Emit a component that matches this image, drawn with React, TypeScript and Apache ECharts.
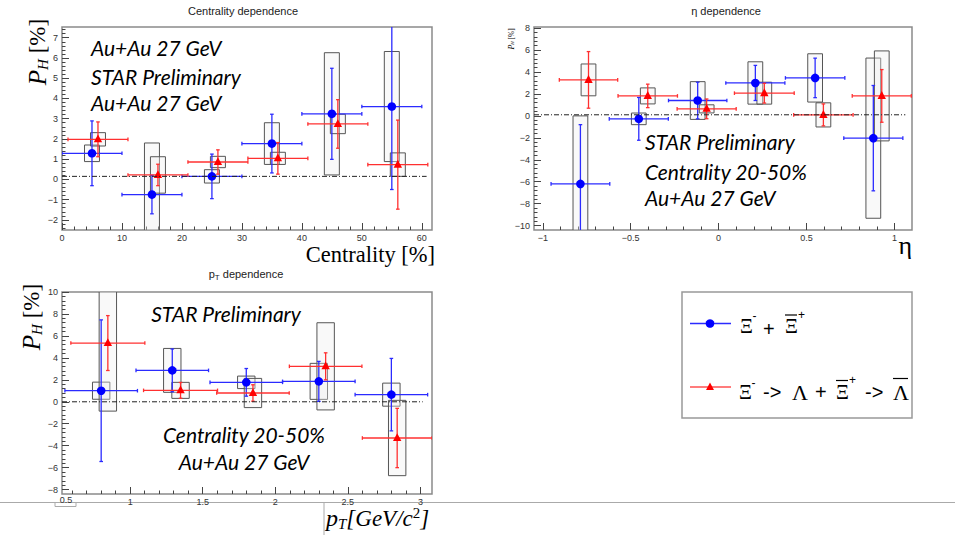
import React, { useEffect, useRef } from "react";
import * as echarts from "echarts";

// ---------- Centrality dependence ----------
const centBlueX = [5, 15, 25, 35, 45, 55];
const centBlueY = [1.29, -0.75, 0.15, 1.77, 3.24, 3.6];
const centBlueXErr = [5, 5, 5, 5, 5, 5];
const centBlueErr = [1.6, 0.95, 1.1, 1.45, 2.25, 4.1];
const centBlueSys = [0.41, 2.55, 0.33, 1.03, 3.02, 2.72];
const centRedX = [6, 16, 26, 36, 46, 56];
const centRedY = [1.98, 0.22, 0.86, 1.04, 2.74, 0.73];
const centRedXErr = [5, 5, 5, 5, 5, 5];
const centRedErr = [0.86, 0.53, 0.6, 0.78, 1.2, 2.2];
const centRedSys = [0.33, 0.9, 0.28, 0.3, 0.48, 0.58];

// ---------- eta dependence ----------
const etaBlueX = [-0.786, -0.454, -0.119, 0.209, 0.549, 0.88];
const etaBlueXErr = [0.167, 0.168, 0.166, 0.168, 0.169, 0.168];
const etaBlueY = [-6.2, -0.27, 1.4, 3.0, 3.46, -2.03];
const etaBlueErr = [5.4, 1.95, 1.67, 1.6, 1.8, 4.8];
const etaBlueSys = [6.2, 0.53, 1.72, 1.93, 2.2, 7.3];
const etaRedX = [-0.74, -0.403, -0.068, 0.26, 0.596, 0.928];
const etaRedXErr = [0.166, 0.169, 0.168, 0.17, 0.169, 0.168];
const etaRedY = [3.28, 1.82, 0.64, 2.07, 0.09, 1.82];
const etaRedErr = [2.58, 1.07, 0.9, 0.9, 1.0, 2.4];
const etaRedSys = [1.45, 0.73, 0.37, 1.0, 1.1, 4.1];

// ---------- pT dependence ----------
const ptBlueX = [0.8, 1.29, 1.8, 2.3, 2.8];
const ptBlueXErr = [0.25, 0.25, 0.25, 0.25, 0.25];
const ptBlueY = [1.01, 2.86, 1.77, 1.86, 0.65];
const ptBlueErr = [6.45, 1.95, 1.26, 1.82, 3.3];
const ptBlueSys = [0.78, 2.0, 0.57, 1.64, 1.05];
const ptRedX = [0.846, 1.347, 1.846, 2.347, 2.84];
const ptRedXErr = [0.255, 0.255, 0.25, 0.25, 0.24];
const ptRedY = [5.35, 1.04, 0.8, 3.23, -3.3];
const ptRedErr = [2.5, 0.72, 0.75, 1.23, 2.7];
const ptRedSys = [6.2, 0.73, 1.33, 3.97, 3.43];

// ---------- tick labels ----------
const centXTicks = [0, 10, 20, 30, 40, 50, 60];
const centYTicks = [-2, -1, 0, 1, 2, 3, 4, 5, 6, 7];
const etaXTicks = [-1, -0.5, 0, 0.5, 1];
const etaYTicks = [-10, -8, -6, -4, -2, 0, 2, 4, 6, 8];
const ptXTicks = [1, 1.5, 2, 2.5, 3];
const ptYTicks = [-8, -6, -4, -2, 0, 2, 4, 6, 8, 10];

function minorTicks(from: number, to: number, step: number): number[] {
  const out: number[] = [];
  const n = Math.round((to - from) / step);
  for (let i = 0; i <= n; i++) out.push(Math.round((from + i * step) * 1000) / 1000);
  return out;
}

const BLUE = "#0000ff";
const BLUE_BAR = "#2b2bff";
const RED = "#ff0000";
const RED_BAR = "#ff3030";
const SANS = "Liberation Sans";
const SERIF = "Liberation Serif";
const ITAL = "Lato";

function zip(xs: number[], ys: number[], xe: number[], ye: number[], sys: number[]) {
  return xs.map((x, i) => [x, ys[i], xe[i], ye[i], sys[i]]);
}

const fmt = (v: number) => (v < 0 ? "\u2212" + String(Math.abs(v)) : String(v));

function axisPair(gi: number, isX: boolean, min: number, max: number, major: number[], minor: number[]) {
  const base = {
    type: "value" as const,
    gridIndex: gi,
    min,
    max,
    position: isX ? "bottom" : "left",
    splitLine: { show: false },
    axisLine: { show: false, onZero: false },
  };
  return [
    {
      ...base,
      axisTick: { show: true, inside: true, length: 7, customValues: major, lineStyle: { color: "#444", width: 1 } },
      axisLabel: {
        show: true,
        customValues: major,
        margin: isX ? 3 : 4,
        fontSize: 9,
        color: "#333",
        fontFamily: SANS,
        formatter: fmt,
      },
    },
    {
      ...base,
      axisTick: { show: true, inside: true, length: 3.5, customValues: minor, lineStyle: { color: "#444", width: 1 } },
      axisLabel: { show: false },
    },
  ];
}

function boxRender(bw: number) {
  return (params: any, api: any) => {
    const x = api.value(0);
    const y = api.value(1);
    const s = api.value(4);
    const p1 = api.coord([x - bw, y + s]);
    const p2 = api.coord([x + bw, y - s]);
    return {
      type: "rect",
      shape: { x: p1[0], y: p1[1], width: p2[0] - p1[0], height: p2[1] - p1[1] },
      style: { fill: "rgba(238,238,238,0.35)", stroke: "#555", lineWidth: 1 },
    };
  };
}

function pointRender(barColor: string, markColor: string, tri: boolean) {
  return (params: any, api: any) => {
    const x = api.value(0);
    const y = api.value(1);
    const xe = api.value(2);
    const ye = api.value(3);
    const c = api.coord([x, y]);
    const l = api.coord([x - xe, y]);
    const r = api.coord([x + xe, y]);
    const t = api.coord([x, y + ye]);
    const b = api.coord([x, y - ye]);
    const cap = 1.8;
    const st = { stroke: barColor, lineWidth: 1.3 };
    const children: any[] = [
      { type: "line", shape: { x1: l[0], y1: c[1], x2: r[0], y2: c[1] }, style: st },
      { type: "line", shape: { x1: c[0], y1: t[1], x2: c[0], y2: b[1] }, style: st },
      { type: "line", shape: { x1: l[0], y1: c[1] - cap, x2: l[0], y2: c[1] + cap }, style: st },
      { type: "line", shape: { x1: r[0], y1: c[1] - cap, x2: r[0], y2: c[1] + cap }, style: st },
      { type: "line", shape: { x1: c[0] - cap, y1: t[1], x2: c[0] + cap, y2: t[1] }, style: st },
      { type: "line", shape: { x1: c[0] - cap, y1: b[1], x2: c[0] + cap, y2: b[1] }, style: st },
    ];
    if (tri) {
      children.push({
        type: "polygon",
        shape: { points: [[c[0], c[1] - 4.8], [c[0] - 4.2, c[1] + 3], [c[0] + 4.2, c[1] + 3]] },
        style: { fill: markColor },
      });
    } else {
      children.push({ type: "circle", shape: { cx: c[0], cy: c[1], r: 4.3 }, style: { fill: markColor } });
    }
    return { type: "group", children };
  };
}

const panels = [
  {
    grid: { left: 62, top: 27, width: 370, height: 203 },
    x: [0, 61.7], y: [-2.5, 7.53],
    xt: centXTicks, yt: centYTicks,
    xm: minorTicks(0, 60, 2), ym: minorTicks(-2.4, 7.4, 0.2),
    zeroY: 0.15, zeroX: [0, 60.8], bw: 1.25,
    blue: zip(centBlueX, centBlueY, centBlueXErr, centBlueErr, centBlueSys),
    red: zip(centRedX, centRedY, centRedXErr, centRedErr, centRedSys),
  },
  {
    grid: { left: 534, top: 27, width: 378, height: 203 },
    x: [-1.05, 1.1], y: [-10.4, 8.1],
    xt: etaXTicks, yt: etaYTicks,
    xm: minorTicks(-1, 1, 0.1), ym: minorTicks(-10, 8, 0.4),
    zeroY: 0.1, zeroX: [-1.05, 1.062], bw: 0.042,
    blue: zip(etaBlueX, etaBlueY, etaBlueXErr, etaBlueErr, etaBlueSys),
    red: zip(etaRedX, etaRedY, etaRedXErr, etaRedErr, etaRedSys),
  },
  {
    grid: { left: 62, top: 292, width: 370, height: 202 },
    x: [0.53, 3.08], y: [-8.4, 10],
    xt: ptXTicks, yt: ptYTicks,
    xm: minorTicks(0.6, 3.0, 0.1), ym: minorTicks(-8, 10, 0.4),
    zeroY: 0, zeroX: [0.53, 3.016], bw: 0.06,
    blue: zip(ptBlueX, ptBlueY, ptBlueXErr, ptBlueErr, ptBlueSys),
    red: zip(ptRedX, ptRedY, ptRedXErr, ptRedErr, ptRedSys),
  },
];

function yTitle(x: number, y: number, big: boolean) {
  const s = big ? 1 : 0.32;
  return {
    type: "text",
    x,
    y,
    rotation: Math.PI / 2,
    style: {
      text: "{p|P}{h|H}{n| [%]}",
      align: "center",
      verticalAlign: "middle",
      rich: {
        p: { fontSize: 25 * s, fontStyle: "italic", fontFamily: SERIF, fill: "#000", lineHeight: 26 * s },
        h: { fontSize: 15 * s, fontStyle: "italic", fontFamily: SERIF, fill: "#000", lineHeight: 14 * s, verticalAlign: "bottom" },
        n: { fontSize: 23 * s, fontFamily: SERIF, fill: "#000", lineHeight: 26 * s },
      },
    },
  };
}

function annot(text: string, x: number, y: number, align: string) {
  return {
    type: "text",
    x,
    y,
    style: { text, fontFamily: ITAL, fontStyle: "italic", fontSize: 21, fill: "#000", align, verticalAlign: "middle" },
  };
}

function glyph(text: string, x: number, y: number, size: number, family: string) {
  return {
    type: "text",
    x,
    y,
    style: { text, fontFamily: family, fontSize: size, fill: "#000", align: "left", verticalAlign: "middle" },
  };
}

function hline(x1: number, x2: number, y: number, color: string, w: number) {
  return { type: "line", shape: { x1, y1: y, x2, y2: y }, style: { stroke: color, lineWidth: w } };
}

function buildOption() {
  const grids: any[] = [];
  const xAxes: any[] = [];
  const yAxes: any[] = [];
  const series: any[] = [];
  panels.forEach((p, i) => {
    grids.push({ ...p.grid, show: true, borderColor: "#8a8a8a", borderWidth: 1.5, backgroundColor: "transparent" });
    xAxes.push(...axisPair(i, true, p.x[0], p.x[1], p.xt, p.xm));
    yAxes.push(...axisPair(i, false, p.y[0], p.y[1], p.yt, p.ym));
    const xi = i * 2;
    series.push({
      type: "line",
      xAxisIndex: xi,
      yAxisIndex: xi,
      data: [[p.zeroX[0], p.zeroY], [p.zeroX[1], p.zeroY]],
      symbol: "none",
      silent: true,
      lineStyle: { color: "#222", width: 1, type: [5, 2, 1, 2] },
    });
    series.push({
      type: "custom",
      xAxisIndex: xi,
      yAxisIndex: xi,
      clip: true,
      silent: true,
      data: [...p.blue, ...p.red],
      renderItem: boxRender(p.bw),
    });
    series.push({
      type: "custom",
      xAxisIndex: xi,
      yAxisIndex: xi,
      clip: true,
      silent: true,
      data: p.blue,
      renderItem: pointRender(BLUE_BAR, BLUE, false),
    });
    series.push({
      type: "custom",
      xAxisIndex: xi,
      yAxisIndex: xi,
      clip: true,
      silent: true,
      data: p.red,
      renderItem: pointRender(RED_BAR, RED, true),
    });
  });

  const titleStyle = { fontSize: 11, fontFamily: SANS, fill: "#222", align: "center", verticalAlign: "middle" };

  const graphic: any[] = [
    // panel titles
    { type: "text", x: 243, y: 11, style: { ...titleStyle, text: "Centrality dependence" } },
    { type: "text", x: 726, y: 11, style: { ...titleStyle, text: "\u03b7 dependence" } },
    {
      type: "text",
      x: 246,
      y: 274,
      style: {
        text: "{a|p}{b|T}{a| dependence}",
        align: "center",
        verticalAlign: "middle",
        rich: {
          a: { fontSize: 11, fontFamily: SANS, fill: "#222", lineHeight: 15 },
          b: { fontSize: 8, fontFamily: SANS, fill: "#222", lineHeight: 8, verticalAlign: "bottom" },
        },
      },
    },
    // y titles
    yTitle(37, 52, true),
    yTitle(511, 39, false),
    yTitle(31, 317, true),
    // x titles
    {
      type: "text",
      x: 435,
      y: 254,
      style: { text: "Centrality [%]", fontFamily: SERIF, fontSize: 22.5, fill: "#000", align: "right", verticalAlign: "middle" },
    },
    {
      type: "text",
      x: 912,
      y: 245,
      style: { text: "\u03b7", fontFamily: SERIF, fontSize: 26, fill: "#000", align: "right", verticalAlign: "middle" },
    },
    {
      type: "text",
      x: 326,
      y: 518,
      style: {
        text: "{p|p}{t|T}{g|[GeV/c}{s|2}{g|]}",
        align: "left",
        verticalAlign: "middle",
        rich: {
          p: { fontSize: 24, fontStyle: "italic", fontFamily: SERIF, fill: "#000", lineHeight: 26 },
          t: { fontSize: 15, fontStyle: "italic", fontFamily: SERIF, fill: "#000", lineHeight: 14, verticalAlign: "bottom" },
          g: { fontSize: 23, fontStyle: "italic", fontFamily: SERIF, fill: "#000", lineHeight: 26 },
          s: { fontSize: 15, fontFamily: SERIF, fill: "#000", lineHeight: 16, verticalAlign: "top" },
        },
      },
    },
    // annotations
    annot("Au+Au 27 GeV", 91, 47.5, "left"),
    annot("STAR Preliminary", 91, 76, "left"),
    annot("Au+Au 27 GeV", 91, 102, "left"),
    annot("STAR Preliminary", 645, 141, "left"),
    annot("Centrality 20-50%", 645, 171, "left"),
    annot("Au+Au 27 GeV", 645, 197, "left"),
    annot("STAR Preliminary", 226, 313, "center"),
    annot("Centrality 20-50%", 244, 434.5, "center"),
    annot("Au+Au 27 GeV", 244, 461, "center"),
    // page artifacts
    hline(0, 955, 502.5, "#aaaaaa", 1),
    { type: "polyline", shape: { points: [[55, 502.5], [55, 506.5], [76, 506.5], [76, 502.5]] }, style: { stroke: "#aaaaaa", lineWidth: 1, fill: "none" } },
    { type: "text", x: 66, y: 500, style: { text: "0.5", fontFamily: SANS, fontSize: 9, fill: "#333", align: "center", verticalAlign: "middle" } },
    { type: "line", shape: { x1: 324, y1: 503, x2: 324, y2: 535 }, style: { stroke: "#aaaaaa", lineWidth: 1 } },
    // legend
    { type: "rect", shape: { x: 682, y: 292, width: 230, height: 126 }, style: { fill: "#fff", stroke: "#999", lineWidth: 1.5 } },
    hline(690, 731, 323.5, BLUE_BAR, 1.3),
    { type: "circle", shape: { cx: 710, cy: 323.5, r: 4.3 }, style: { fill: BLUE } },
    hline(690, 731, 387, "#ff5050", 1.3),
    { type: "polygon", shape: { points: [[710, 382.5], [706, 390], [714, 390]] }, style: { fill: RED } },
    glyph("\u039e", 740, 326, 20, SERIF),
    glyph("-", 752.5, 316, 12, SANS),
    glyph("+", 763, 329, 20, SANS),
    glyph("\u039e", 785, 326, 20, SERIF),
    hline(785, 797, 315, "#000", 1.2),
    glyph("+", 798, 315, 12, SANS),
    glyph("\u039e", 739, 392, 20, SERIF),
    glyph("-", 751.5, 383, 12, SANS),
    glyph("->", 763, 392, 20, SANS),
    glyph("\u039b", 792, 392.5, 22, SERIF),
    glyph("+", 815, 392, 20, SANS),
    glyph("\u039e", 836, 392, 20, SERIF),
    hline(836, 848, 380.5, "#000", 1.2),
    glyph("+", 849, 380, 12, SANS),
    glyph("->", 865, 392, 20, SANS),
    glyph("\u039b", 893, 392.5, 22, SERIF),
    hline(893, 908, 378.5, "#000", 1.2),
  ];

  return {
    animation: false,
    backgroundColor: "#ffffff",
    grid: grids,
    xAxis: xAxes,
    yAxis: yAxes,
    series,
    graphic,
  };
}

export default function App() {
  const ref = useRef<HTMLDivElement>(null);
  useEffect(() => {
    if (!ref.current) return;
    const chart = echarts.init(ref.current, null, { renderer: "svg" });
    chart.setOption(buildOption() as any);
    return () => chart.dispose();
  }, []);
  return (
    <div
      ref={ref}
      style={{ position: "fixed", left: 0, top: 0, width: 955, height: 535, background: "#fff" }}
    />
  );
}
